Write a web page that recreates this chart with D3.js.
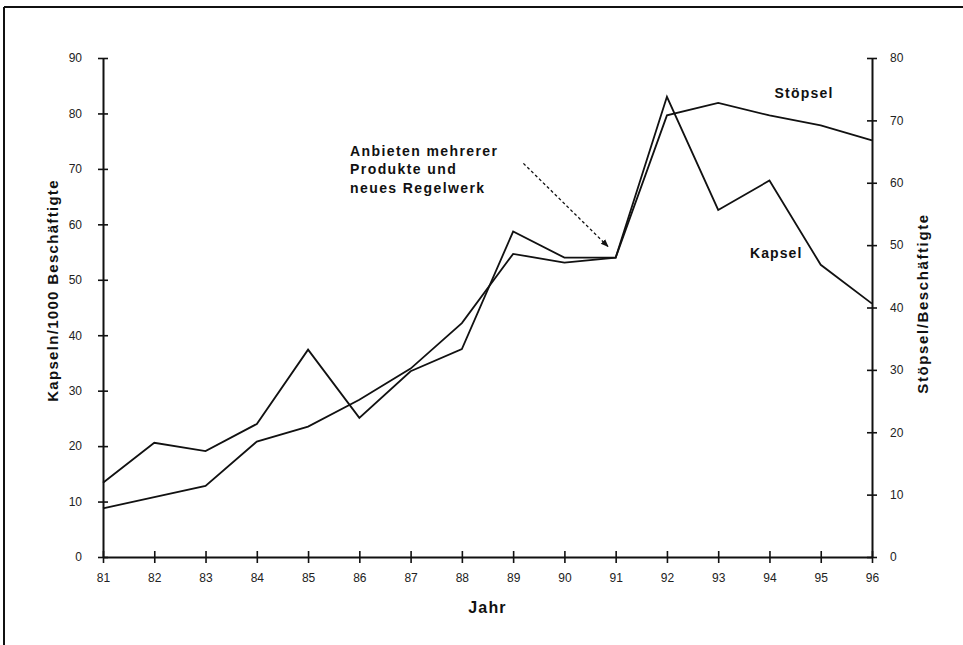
<!DOCTYPE html>
<html>
<head>
<meta charset="utf-8">
<script src="https://cdn.jsdelivr.net/npm/d3@7"></script>
<style>
  html, body { margin: 0; padding: 0; background: #fff; }
  svg { display: block; font-family: "Liberation Sans", Arial, sans-serif; }
</style>
</head>
<body>
<svg id="chart" width="963" height="645"></svg>
<script>
// Years on the x axis (two-digit labels)
const years = [81, 82, 83, 84, 85, 86, 87, 88, 89, 90, 91, 92, 93, 94, 95, 96];
// Capsules per 1000 employees (left axis)
const kapsel = [13.4, 20.6, 19.1, 24.0, 37.4, 25.1, 33.5, 37.5, 58.7, 54.0, 54.0, 83.0, 62.6, 67.9, 52.7, 45.7];
// Plugs per employee (right axis)
const stoepsel = [7.8, 9.6, 11.4, 18.5, 20.9, 25.2, 30.2, 37.5, 48.6, 47.2, 48.0, 70.8, 72.8, 70.8, 69.2, 66.8];
// Tick values
const leftTicks = [0, 10, 20, 30, 40, 50, 60, 70, 80, 90];
const rightTicks = [0, 10, 20, 30, 40, 50, 60, 70, 80];
const noteLines = ["Anbieten mehrerer", "Produkte und", "neues Regelwerk"];

const svg = d3.select("#chart");
const plotLeft = 103, plotRight = 872, plotTop = 58, plotBottom = 557;

const x = d3.scaleLinear().domain([81, 96]).range([plotLeft, plotRight]);
const yL = d3.scaleLinear().domain([0, 90]).range([plotBottom, plotTop]);
const yR = d3.scaleLinear().domain([0, 80]).range([plotBottom, plotTop]);

// Outer frame (top and left edges)
svg.append("line").attr("x1", 4).attr("x2", 963).attr("y1", 7).attr("y2", 7)
  .attr("stroke", "#111").attr("stroke-width", 2);
svg.append("line").attr("x1", 4).attr("x2", 4).attr("y1", 7).attr("y2", 645)
  .attr("stroke", "#111").attr("stroke-width", 2);

// Left axis
const gL = svg.append("g").attr("transform", `translate(${plotLeft},0)`)
  .call(d3.axisLeft(yL).tickValues(leftTicks).tickSizeInner(5).tickSizeOuter(0).tickPadding(16));
gL.select(".domain").attr("stroke", "#111").attr("stroke-width", 2);
gL.selectAll(".tick line").attr("stroke", "#111").attr("stroke-width", 1.6).attr("x1", 5);
gL.selectAll(".tick text").attr("fill", "#222").style("font-size", "12px");

// Right axis
const gR = svg.append("g").attr("transform", `translate(${plotRight},0)`)
  .call(d3.axisRight(yR).tickValues(rightTicks).tickSizeInner(5).tickSizeOuter(0).tickPadding(13));
gR.select(".domain").attr("stroke", "#111").attr("stroke-width", 2);
gR.selectAll(".tick line").attr("stroke", "#111").attr("stroke-width", 1.6).attr("x1", -5);
gR.selectAll(".tick text").attr("fill", "#222").style("font-size", "12px");

// Bottom axis
const gB = svg.append("g").attr("transform", `translate(0,${plotBottom})`)
  .call(d3.axisBottom(x).tickValues(years).tickFormat(d3.format("d")).tickSizeInner(6).tickSizeOuter(0).tickPadding(10));
gB.select(".domain").attr("stroke", "#111").attr("stroke-width", 2);
gB.selectAll(".tick line").attr("stroke", "#111").attr("stroke-width", 1.6).attr("y1", -6);
gB.selectAll(".tick text").attr("fill", "#222").style("font-size", "12px");

// Axis titles
svg.append("text").attr("transform", `translate(52,${(plotTop + plotBottom) / 2 - 17}) rotate(-90)`)
  .attr("text-anchor", "middle").attr("dominant-baseline", "central")
  .style("font-size", "15px").style("font-weight", "bold").style("letter-spacing", "1.3px").attr("fill", "#111")
  .text("Kapseln/1000 Beschäftigte");
svg.append("text").attr("transform", `translate(922,${(plotTop + plotBottom) / 2 - 4}) rotate(-90)`)
  .attr("text-anchor", "middle").attr("dominant-baseline", "central")
  .style("font-size", "15px").style("font-weight", "bold").style("letter-spacing", "1.6px").attr("fill", "#111")
  .text("Stöpsel/Beschäftigte");
svg.append("text").attr("x", (plotLeft + plotRight) / 2).attr("y", 607)
  .attr("text-anchor", "middle").attr("dominant-baseline", "central")
  .style("font-size", "16px").style("font-weight", "bold").style("letter-spacing", "1.2px").attr("fill", "#111")
  .text("Jahr");

// Series lines
const lineK = d3.line().x((d, i) => x(years[i])).y(d => yL(d));
const lineS = d3.line().x((d, i) => x(years[i])).y(d => yR(d));
svg.append("path").datum(kapsel).attr("d", lineK)
  .attr("fill", "none").attr("stroke", "#111").attr("stroke-width", 1.8).attr("stroke-linejoin", "miter");
svg.append("path").datum(stoepsel).attr("d", lineS)
  .attr("fill", "none").attr("stroke", "#111").attr("stroke-width", 1.8).attr("stroke-linejoin", "miter");

// Series labels
svg.append("text").attr("x", x(94.1)).attr("y", yL(83.75))
  .attr("dominant-baseline", "central").style("font-size", "14px").style("font-weight", "bold")
  .style("letter-spacing", "1.2px").attr("fill", "#111").text("Stöpsel");
svg.append("text").attr("x", x(93.62)).attr("y", yL(54.9))
  .attr("dominant-baseline", "central").style("font-size", "14px").style("font-weight", "bold")
  .style("letter-spacing", "1.1px").attr("fill", "#111").text("Kapsel");

// Annotation text and dashed arrow
const note = svg.append("text").attr("x", x(85.82)).attr("y", yL(72.4))
  .style("font-size", "14px").style("font-weight", "bold").style("letter-spacing", "1.4px").attr("fill", "#111");
noteLines.forEach((t, i) => note.append("tspan").attr("x", x(85.82)).attr("dy", i === 0 ? 0 : 18.5).text(t));

svg.append("defs").append("marker").attr("id", "head")
  .attr("viewBox", "0 0 10 10").attr("refX", 9).attr("refY", 5)
  .attr("markerWidth", 6).attr("markerHeight", 6).attr("orient", "auto")
  .append("path").attr("d", "M0,1 L10,5 L0,9 Z").attr("fill", "#111");
svg.append("line")
  .attr("x1", x(89.2)).attr("y1", yL(71.0)).attr("x2", x(90.85)).attr("y2", yL(56.0))
  .attr("stroke", "#111").attr("stroke-width", 1.3).attr("stroke-dasharray", "3,2.5")
  .attr("marker-end", "url(#head)");
</script>
</body>
</html>
